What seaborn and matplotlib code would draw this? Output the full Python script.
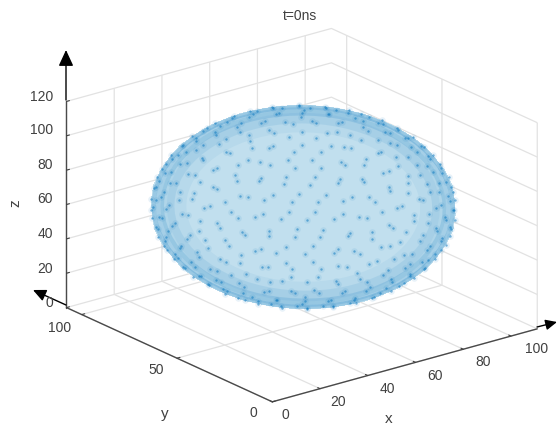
import numpy as np
import pandas as pd
import matplotlib
matplotlib.use("Agg")
import matplotlib.pyplot as plt
import seaborn as sns

# the original cloud has far too many dots to read one by one, so this is a
# sparse hand typed stand-in: dots on the shell, given as latitude / longitude
center = [60.5, 59.5, 60]
radius = 50
band_lat = [5, -5, 15, -15, 25, -25, 35, -35, 45, -45, 55, -55, 65, -65, 75, -75, 85, -85]
band_lon = [
    [3, 14, 22, 33, 41, 52, 63, 71, 82, 93, 101, 112, 123, 131, 142, 151, 163, 172, 183, 191, 202, 213, 221, 232, 243, 251, 262, 271, 283, 292, 301, 312, 323, 331, 342, 353],
    [8, 17, 28, 37, 48, 57, 68, 77, 88, 97, 108, 118, 127, 138, 147, 158, 167, 178, 187, 198, 207, 218, 227, 238, 248, 257, 268, 277, 288, 297, 308, 317, 328, 337, 348, 357],
    [1, 12, 21, 33, 42, 52, 63, 73, 83, 94, 104, 114, 125, 135, 145, 156, 166, 176, 187, 197, 207, 218, 228, 238, 249, 259, 269, 280, 290, 300, 311, 321, 331, 342, 352],
    [6, 16, 27, 37, 47, 58, 68, 78, 89, 99, 109, 120, 130, 140, 151, 161, 171, 182, 192, 202, 213, 223, 233, 244, 254, 264, 275, 285, 295, 306, 316, 326, 337, 347, 357],
    [4, 15, 26, 37, 48, 59, 69, 80, 91, 102, 113, 124, 135, 146, 157, 168, 178, 189, 200, 211, 222, 233, 244, 255, 266, 277, 288, 298, 309, 320, 331, 342, 353],
    [9, 20, 31, 42, 53, 64, 75, 86, 97, 108, 119, 129, 140, 151, 162, 173, 184, 195, 206, 217, 228, 238, 249, 260, 271, 282, 293, 304, 315, 326, 337, 347, 358],
    [2, 15, 27, 40, 52, 64, 77, 89, 102, 114, 126, 139, 151, 164, 176, 188, 201, 213, 226, 238, 250, 263, 275, 288, 300, 312, 325, 337, 350],
    [8, 21, 33, 46, 58, 70, 83, 95, 108, 120, 132, 145, 157, 170, 182, 194, 207, 219, 232, 244, 256, 269, 281, 294, 306, 318, 331, 343, 356],
    [5, 19, 34, 48, 63, 77, 91, 106, 120, 135, 149, 163, 178, 192, 207, 221, 235, 250, 264, 279, 293, 307, 322, 336, 351],
    [12, 26, 41, 55, 70, 84, 98, 113, 127, 142, 156, 170, 185, 199, 214, 228, 242, 257, 271, 286, 300, 314, 329, 343, 358],
    [3, 20, 37, 54, 72, 89, 106, 123, 140, 157, 174, 192, 209, 226, 243, 260, 277, 294, 312, 329, 346],
    [11, 28, 45, 63, 80, 97, 114, 131, 148, 165, 183, 200, 217, 234, 251, 268, 285, 303, 320, 337, 354],
    [7, 31, 55, 79, 103, 127, 151, 175, 199, 223, 247, 271, 295, 319, 343],
    [19, 43, 67, 91, 115, 139, 163, 187, 211, 235, 259, 283, 307, 331, 355],
    [10, 50, 90, 130, 170, 210, 250, 290, 330],
    [30, 70, 110, 150, 190, 230, 270, 310, 350],
    [60, 180, 300],
    [0, 120, 240],
]
# light tint under the dots, the shell outline as seen in the picture
mesh_lat = [-90, -80, -70, -60, -50, -40, -30, -20, -10, 0, 10, 20, 30, 40, 50, 60, 70, 80, 90]
mesh_lon = [0, 15, 30, 45, 60, 75, 90, 105, 120, 135, 150, 165, 180, 195, 210, 225, 240, 255, 270, 285, 300, 315, 330, 345, 360]
# the dots crowd along the visible edge of the shell, which reads as a darker rim
rim_angle = [0, 5, 10, 15, 20, 25, 30, 35, 40, 45, 50, 55, 60, 65, 70, 75, 80, 85, 90, 95, 100, 105, 110, 115,
             120, 125, 130, 135, 140, 145, 150, 155, 160, 165, 170, 175, 180, 185, 190, 195, 200, 205, 210, 215,
             220, 225, 230, 235, 240, 245, 250, 255, 260, 265, 270, 275, 280, 285, 290, 295, 300, 305, 310, 315,
             320, 325, 330, 335, 340, 345, 350, 355, 360]
rim_side = [0.79, -0.613, 0.0]
rim_up = [0.328, 0.423, 0.845]
x_ticks = [0, 20, 40, 60, 80, 100]
y_ticks = [0, 50, 100]
z_ticks = [0, 20, 40, 60, 80, 100, 120]
x_lim = (0, 111)
y_lim = (0, 108)
z_lim = (0, 120)

W, H = 557, 425
TEXT = "#404040"
AXIS = "#4a4a4a"
GRID = "#e2e2e2"
# tick label spots in pixels from the top left of the picture
x_label_px = [(285, 415), (338, 402), (387, 389), (435, 376), (483, 362), (537, 349)]
y_label_px = [(253, 413), (156, 370), (60, 328)]
z_label_px = [(53, 303), (53, 269), (53, 234), (53, 199), (53, 165), (53, 130), (53, 97)]


def shell_points(r):
    rows = []
    for lat, lons in zip(band_lat, band_lon):
        for lon in lons:
            a, b = np.radians(lat), np.radians(lon)
            rows.append((center[0] + r * np.cos(a) * np.cos(b),
                         center[1] + r * np.cos(a) * np.sin(b),
                         center[2] + r * np.sin(a)))
    return pd.DataFrame(rows, columns=["x", "y", "z"])


def rim_line(r):
    t = np.radians(rim_angle)
    return [center[i] + r * (np.cos(t) * rim_side[i] + np.sin(t) * rim_up[i]) for i in range(3)]


def arrow(start, end, head=1.0):
    fig.add_artist(matplotlib.patches.FancyArrowPatch(
        (start[0] / W, 1 - start[1] / H), (end[0] / W, 1 - end[1] / H),
        transform=fig.transFigure, arrowstyle="-|>,head_length=0.65,head_width=0.3",
        mutation_scale=15 * head, color="black", lw=1.0, shrinkA=0, shrinkB=0))


def label(px, text, **kw):
    fig.text(px[0] / W, 1 - px[1] / H, text, va="center", color=TEXT, **kw)


sns.set_style("white")
plt.rcParams["font.family"] = ["Liberation Sans", "DejaVu Sans"]
blue = sns.color_palette(["#0072BD"])[0]

fig = plt.figure(figsize=(W / 100, H / 100), dpi=100)
S = 508
cx, cy = 295, 222
ax = fig.add_axes([(cx - S / 2) / W, (H - cy - S / 2) / H, S / W, S / H], projection="3d")
ax.patch.set_alpha(0)
ax.set_proj_type("ortho")
ax.view_init(elev=20.8, azim=-127.8)
ax.set_box_aspect((334.5, 335, 220))
ax.computed_zorder = False

lat_grid, lon_grid = np.meshgrid(np.radians(mesh_lat), np.radians(mesh_lon))
ax.plot_surface(center[0] + radius * np.cos(lat_grid) * np.cos(lon_grid),
                center[1] + radius * np.cos(lat_grid) * np.sin(lon_grid),
                center[2] + radius * np.sin(lat_grid),
                color="#c1dfee", shade=False, linewidth=0, antialiased=False, zorder=1)

fine = shell_points(radius)
ax.plot(*rim_line(radius - 8.5), color=blue, lw=14, alpha=0.05, zorder=2)
ax.plot(*rim_line(radius - 5.5), color=blue, lw=10, alpha=0.09, zorder=2)
ax.plot(*rim_line(radius - 3), color=blue, lw=6, alpha=0.14, zorder=2)
ax.plot(*rim_line(radius - 1), color=blue, lw=3, alpha=0.2, zorder=2)
ax.scatter(fine["x"], fine["y"], fine["z"], s=22, color=blue, alpha=0.09, linewidths=0, depthshade=False, zorder=3)
ax.scatter(fine["x"], fine["y"], fine["z"], s=3, color=blue, alpha=0.5, linewidths=0, depthshade=False, zorder=4)

ax.set_xlim(x_lim, view_margin=0)
ax.set_ylim(y_lim, view_margin=0)
ax.set_zlim(z_lim, view_margin=0)
ax.set_xticks(x_ticks)
ax.set_yticks(y_ticks)
ax.set_zticks(z_ticks)
ax.set_xticklabels([])
ax.set_yticklabels([])
ax.set_zticklabels([])
ax.tick_params(colors=TEXT)

for axis in (ax.xaxis, ax.yaxis, ax.zaxis):
    axis.set_pane_color((1, 1, 1, 0))
    axis.pane.set_edgecolor((1, 1, 1, 0))
    axis.line.set_color(AXIS)
    axis.line.set_linewidth(1.0)
    axis._axinfo["grid"].update(color=GRID, linewidth=0.9)
    axis._axinfo["tick"].update(inward_factor=0.0, outward_factor=0.14, linewidth={True: 0.8, False: 0.8})

for px, tick in zip(x_label_px, x_ticks):
    label(px, str(tick), ha="center", fontsize=10)
for px, tick in zip(y_label_px, y_ticks):
    label(px, str(tick), ha="center", fontsize=10)
for px, tick in zip(z_label_px, z_ticks):
    label(px, str(tick), ha="right", fontsize=10)

label((300, 16), "t=0ns", ha="center", fontsize=10)
label((15, 203), "z", ha="center", rotation=90, fontsize=11)
label((165, 414), "y", ha="center", fontsize=11)
label((389, 419), "x", ha="center", fontsize=11)

arrow((66, 100), (66, 50))
arrow((66, 305), (33, 290), 0.8)
arrow((537, 327), (557, 322), 0.7)

fig.savefig("out.png", dpi=100)
